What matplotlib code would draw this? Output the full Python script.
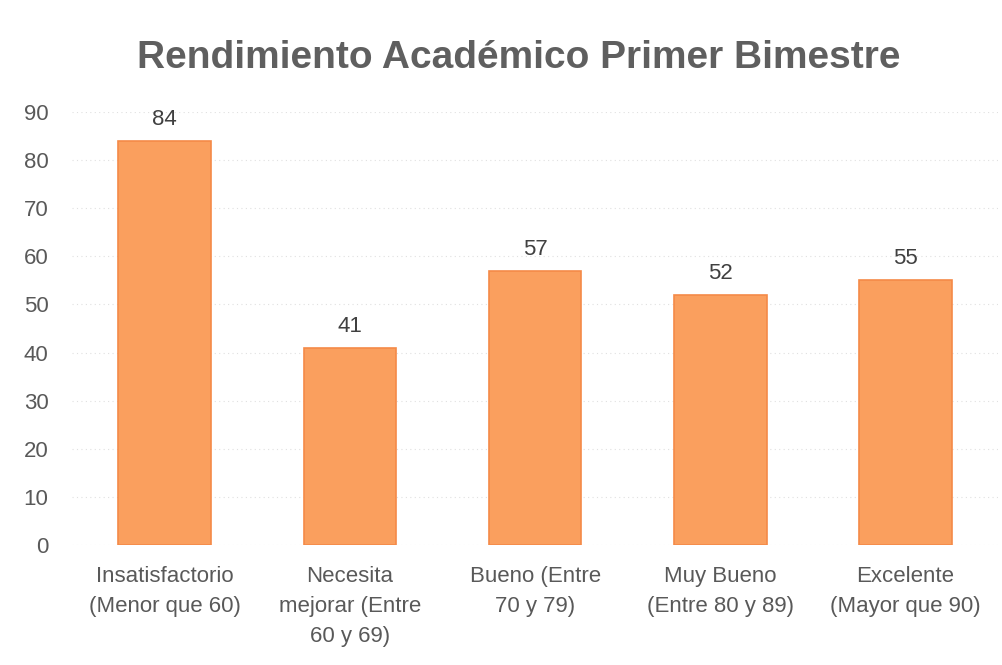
import matplotlib.pyplot as plt
import numpy as np

plt.rcParams['font.family'] = ['Liberation Sans', 'DejaVu Sans']

# data
categorias = ['Insatisfactorio\n(Menor que 60)', 'Necesita\nmejorar (Entre\n60 y 69)',
              'Bueno (Entre\n70 y 79)', 'Muy Bueno\n(Entre 80 y 89)', 'Excelente\n(Mayor que 90)']
valores = [84, 41, 57, 52, 55]
titulo = 'Rendimiento Académico Primer Bimestre'

fig = plt.figure(figsize=(10.02, 6.65), dpi=100)
ax = fig.add_axes([0.072, 0.180, 0.924, 0.652])

x = np.arange(len(valores))
bars = ax.bar(x, valores, width=0.5, color='#FA9F5E', edgecolor='#F58A48', linewidth=1.2, zorder=3)

for b, v in zip(bars, valores):
    ax.text(b.get_x() + b.get_width() / 2, v + 2.3, str(v), ha='center', va='bottom',
            fontsize=16, color='#404040')

ax.set_xlim(-0.5, len(valores) - 0.5)
ax.set_ylim(0, 90)
ax.set_yticks(range(0, 91, 10))
ax.set_xticks(x)
ax.set_xticklabels(categorias, fontsize=16, color='#595959', linespacing=1.55)
ax.tick_params(axis='y', labelsize=16, labelcolor='#595959', length=0, pad=17)
ax.tick_params(axis='x', length=0, pad=15)

ax.grid(axis='y', color='#E0E0E0', linestyle=(0, (1, 3)), linewidth=0.8, zorder=0)
for s in ax.spines.values():
    s.set_visible(False)

fig.text(0.518, 0.913, titulo, ha='center', va='center', fontsize=28, fontweight='bold', color='#5f5f5f')

fig.savefig('out.png', dpi=100)
